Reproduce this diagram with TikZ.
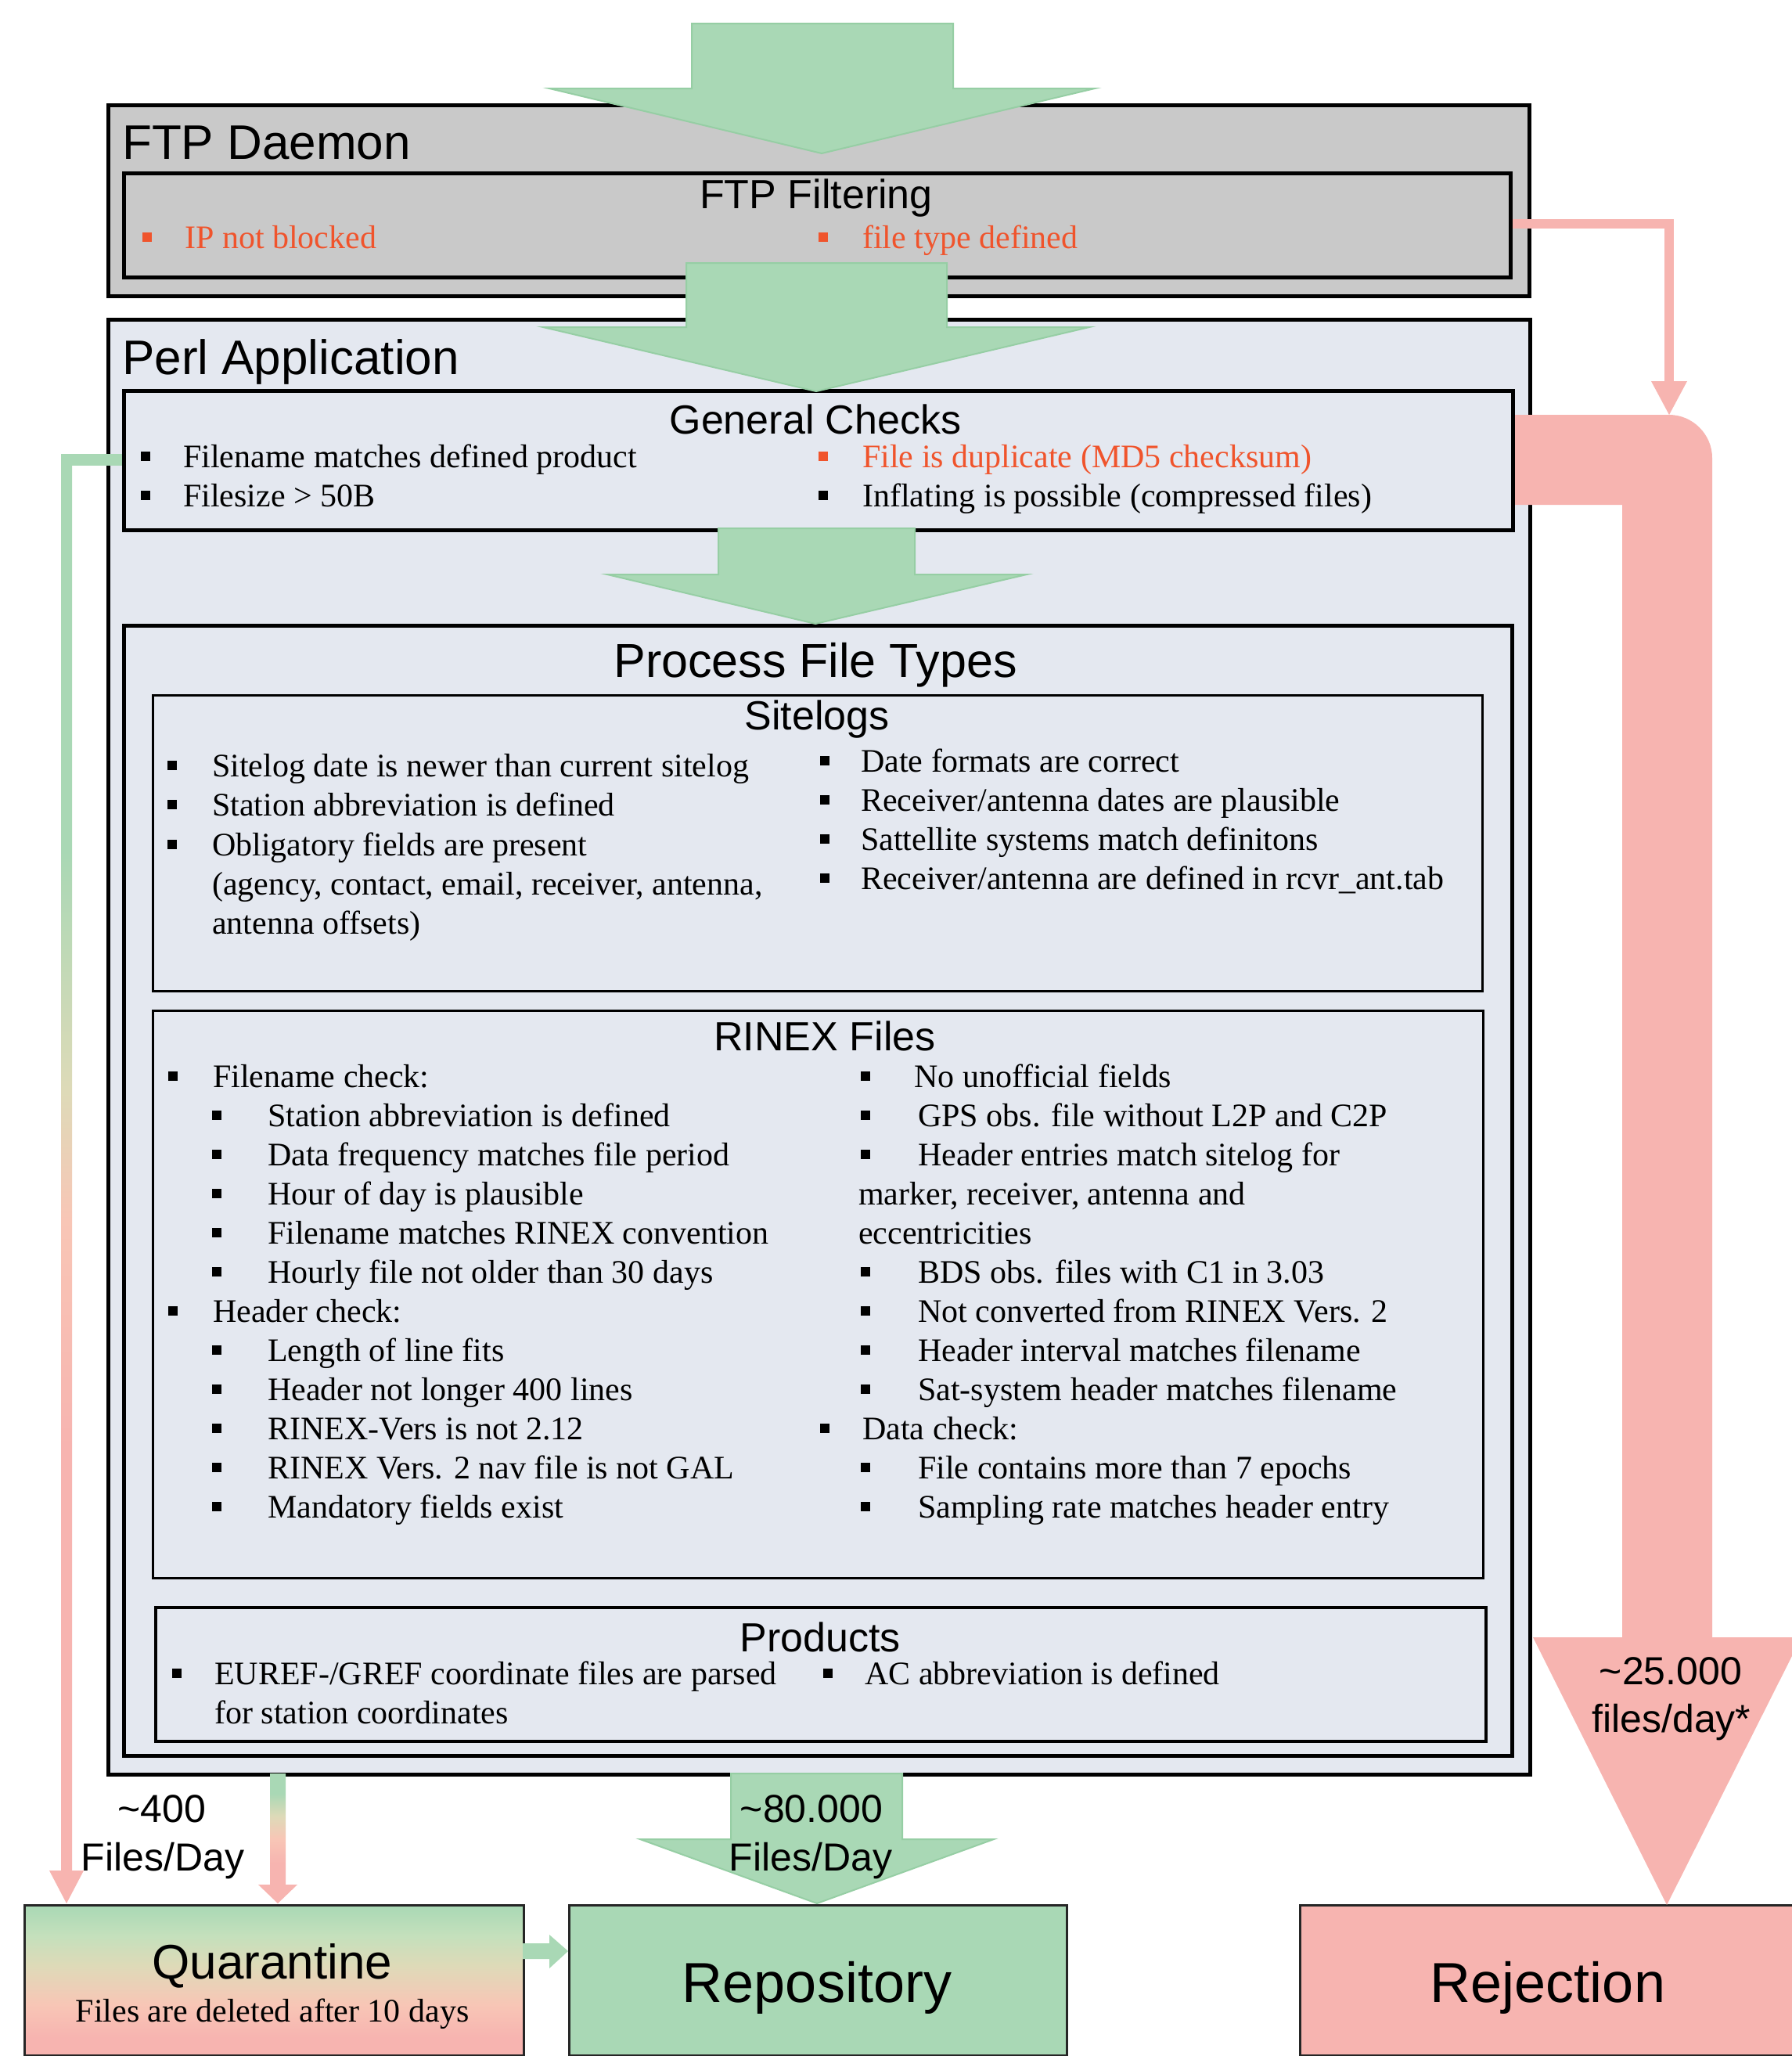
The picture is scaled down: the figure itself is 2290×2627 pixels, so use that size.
\documentclass[tikz,border=0pt]{standalone}
\usepackage{fontspec}
\setmainfont{Liberation Serif}
\setsansfont{Liberation Sans}
\usetikzlibrary{calc}
\definecolor{gfill}{RGB}{169,216,181}
\definecolor{gline}{RGB}{150,206,164}
\definecolor{pk}{RGB}{247,180,176}
\definecolor{beige}{RGB}{222,218,184}
\definecolor{salmon}{RGB}{248,198,182}
\definecolor{lgreen}{RGB}{196,224,188}
\definecolor{grayb}{RGB}{201,201,201}
\definecolor{lblue}{RGB}{228,232,240}
\definecolor{orng}{RGB}{240,84,44}
\pgfdeclareverticalshading{leftgrad}{100bp}{color(0bp)=(pk); color(40bp)=(pk); color(48bp)=(salmon); color(52.5bp)=(beige); color(61bp)=(gfill); color(100bp)=(gfill)}
\pgfdeclareverticalshading{midgrad}{100bp}{color(0bp)=(pk); color(35bp)=(pk); color(46bp)=(salmon); color(56bp)=(beige); color(66bp)=(gfill); color(100bp)=(gfill)}
\pgfdeclareverticalshading{quargrad}{100bp}{color(0bp)=(pk); color(31bp)=(pk); color(42bp)=(salmon); color(55bp)=(beige); color(65bp)=(lgreen); color(75bp)=(gfill); color(100bp)=(gfill)}
\tikzset{
  boxn/.style={draw=black, line width=5pt, inner sep=0pt, anchor=north west},
  boxthin/.style={draw=black, line width=2.5pt, inner sep=0pt, anchor=north west},
  boxlow/.style={draw=black!85, line width=3pt, inner sep=0pt, anchor=north west},
  body/.style={font=\fontsize{42}{50}\selectfont, inner sep=0pt, anchor=base west},
  hdA/.style={font=\sffamily\fontsize{62}{72}\selectfont, inner sep=0pt},
  hdB/.style={font=\sffamily\fontsize{52}{60}\selectfont, inner sep=0pt},
  hdC/.style={font=\sffamily\fontsize{72}{82}\selectfont, inner sep=0pt},
  garrowst/.style={fill=gfill, draw=gline, line width=2pt, line join=miter},
}
% [colour]{name}{bullet x}{text x}{baseline}{text}
\newcommand\itm[6][black]{%
  \fill[#1] (#3-6,#5-20) rectangle (#3+6,#5-8);
  \node[body,text=#1] (#2) at (#4,#5) {#6};}
\begin{document}
\begin{tikzpicture}[x=1pt,y=-1pt]
\useasboundingbox (0,0) rectangle (2290,2627);
\clip (0,0) rectangle (2290,2627);
\fill[white] (0,0) rectangle (2290,2627);

% ---------- boxes ----------
\node[boxn, fill=grayb, minimum width=1816pt, minimum height=244pt] (ftp) at (136,132) {};
\node[boxn, fill=grayb, minimum width=1772pt, minimum height=133pt] (filt) at (156,219) {};
\node[boxn, fill=lblue, minimum width=1817pt, minimum height=1859pt] (perl) at (136,406) {};
\node[boxn, fill=lblue, minimum width=1775pt, minimum height=178pt] (gen) at (156,497) {};
\node[boxn, fill=lblue, minimum width=1774pt, minimum height=1444pt] (pft) at (156,797) {};
\node[boxthin, fill=lblue, minimum width=1699pt, minimum height=378pt] (site) at (194,887) {};
\node[boxthin, fill=lblue, minimum width=1700pt, minimum height=725pt] (rinex) at (194,1290) {};
\node[boxthin, line width=3.5pt, fill=lblue, minimum width=1700pt, minimum height=171pt] (prod) at (197,2052) {};
\node[boxlow, shade, shading=quargrad, minimum width=638pt, minimum height=192pt] (quar) at (30,2433) {};
\node[boxlow, fill=gfill, minimum width=636pt, minimum height=192pt] (repo) at (726,2433) {};
\node[boxlow, fill=pk, minimum width=660pt, minimum height=192pt] (rej) at (1660,2433) {};

% ---------- pink connectors ----------
\coordinate (rc1) at (2133,286);
\coordinate (rc2) at (2133,490);
\draw[pk, line width=12pt] (filt.east |- rc1) -- (rc1) -- (rc2);
\fill[pk] (2110,487) -- (2156,487) -- (2133,530) -- cycle;
\fill[pk] (gen.east |- 0,530) -- (2133,530) .. controls (2163,530) and (2188,555) .. (2188,585)
  -- (2188,2092) -- (2302,2092) -- (2130,2434) -- (1959,2092) -- (2073,2092)
  -- (2073,645) -- (gen.east |- 0,645) -- cycle;

% left gradient connector (General Checks -> Quarantine)
\fill[gfill] (78,580) rectangle (gen.west |- 0,595);
\shade[shading=leftgrad] (78,580) rectangle (92,2392);
\fill[pk] (63,2390) -- (107,2390) -- (85,2432) -- cycle;
% Perl -> Quarantine
\shade[shading=midgrad] (345,2266) rectangle (365,2410);
\fill[pk] (330,2408) -- (380,2408) -- (355,2432) -- cycle;

% ---------- green block arrows ----------
\filldraw[garrowst] (884,30) -- (1218,30) -- (1218,113) -- (1399,113) -- (1050,196) -- (702,113) -- (884,113) -- cycle;
\filldraw[garrowst] (877,336) -- (1210,336) -- (1210,418) -- (1392,418) -- (1043,500) -- (694,418) -- (877,418) -- cycle;
\filldraw[garrowst] (918,675) -- (1169,675) -- (1169,734) -- (1312,734) -- (1042,797) -- (776,734) -- (918,734) -- cycle;
\filldraw[garrowst] (934,2266) -- (1153,2266) -- (1153,2350) -- (1270,2350) -- (1044,2432) -- (818,2350) -- (934,2350) -- cycle;
\fill[gfill] (668,2483) -- (702,2483) -- (702,2472) -- (726,2493) -- (702,2515) -- (702,2503) -- (668,2503) -- cycle;

% ---------- texts ----------
\node[hdA, anchor=base west] (tftp) at (156,203) {FTP Daemon};
\node[hdB, anchor=base] (tfilt) at (1043,266) {FTP Filtering};
\itm[orng]{f1}{188}{236}{317}{IP not blocked}
\itm[orng]{f2}{1052}{1102}{317}{file type defined}

\node[hdA, anchor=base west] (tperl) at (156,478) {Perl Application};
\node[hdB, anchor=base] (tgen) at (1042,554) {General Checks};
\itm{g1}{186}{234}{597}{Filename matches defined product}
\itm{g2}{186}{234}{647}{Filesize > 50B}
\itm[orng]{g3}{1052}{1102}{597}{File is duplicate (MD5 checksum)}
\itm{g4}{1052}{1102}{647}{Inflating is possible (compressed files)}

\node[hdA, font=\sffamily\fontsize{61}{70}\selectfont, anchor=base] (tpft) at (1042,865) {Process File Types};

\node[hdB, anchor=base] (tsite) at (1044,932) {Sitelogs};
\itm{s1}{220}{271}{992}{Sitelog date is newer than current sitelog}
\itm{s2}{220}{271}{1042}{Station abbreviation is defined}
\itm{s3}{220}{271}{1093}{Obligatory fields are present}
\node[body] (s3b) at (271,1143) {(agency, contact, email, receiver, antenna,};
\node[body] (s3c) at (271,1193) {antenna offsets)};
\itm{s4}{1054}{1100}{986}{Date formats are correct}
\itm{s5}{1054}{1100}{1036}{Receiver/antenna dates are plausible}
\itm{s6}{1054}{1100}{1086}{Sattellite systems match definitons}
\itm{s7}{1054}{1100}{1136}{Receiver/antenna are defined in rcvr\_ant.tab}

\node[hdB, anchor=base] (trin) at (1054,1342) {RINEX Files};
\itm{r1}{221}{272}{1389}{Filename check:}
\itm{r2}{277}{342}{1439}{Station abbreviation is defined}
\itm{r3}{277}{342}{1489}{Data frequency matches file period}
\itm{r4}{277}{342}{1539}{Hour of day is plausible}
\itm{r5}{277}{342}{1589}{Filename matches RINEX convention}
\itm{r6}{277}{342}{1639}{Hourly file not older than 30 days}
\itm{r7}{221}{272}{1689}{Header check:}
\itm{r8}{277}{342}{1739}{Length of line fits}
\itm{r9}{277}{342}{1789}{Header not longer 400 lines}
\itm{r10}{277}{342}{1839}{RINEX-Vers is not 2.12}
\itm{r11}{277}{342}{1889}{RINEX Vers. 2 nav file is not GAL}
\itm{r12}{277}{342}{1939}{Mandatory fields exist}
\itm{q1}{1106}{1168}{1389}{No unofficial fields}
\itm{q2}{1106}{1173}{1439}{GPS obs. file without L2P and C2P}
\itm{q3}{1106}{1173}{1489}{Header entries match sitelog for}
\node[body] (q3b) at (1097,1539) {marker, receiver, antenna and};
\node[body] (q3c) at (1097,1589) {eccentricities};
\itm{q4}{1106}{1173}{1639}{BDS obs. files with C1 in 3.03}
\itm{q5}{1106}{1173}{1689}{Not converted from RINEX Vers. 2}
\itm{q6}{1106}{1173}{1739}{Header interval matches filename}
\itm{q7}{1106}{1173}{1789}{Sat-system header matches filename}
\itm{q8}{1054}{1102}{1839}{Data check:}
\itm{q9}{1106}{1173}{1889}{File contains more than 7 epochs}
\itm{q10}{1106}{1173}{1939}{Sampling rate matches header entry}

\node[hdB, anchor=base] (tprod) at (1048,2110) {Products};
\itm{p1}{226}{274}{2152}{EUREF-/GREF coordinate files are parsed}
\node[body] (p1b) at (274,2202) {for station coordinates};
\itm{p2}{1058}{1105}{2152}{AC abbreviation is defined}

% flow labels
\node[hdB, font=\sffamily\fontsize{50}{58}\selectfont, anchor=base] (l400a) at (207,2328) {\textasciitilde 400};
\node[hdB, font=\sffamily\fontsize{50}{58}\selectfont, anchor=base] (l400b) at (208,2390) {Files/Day};
\node[hdB, font=\sffamily\fontsize{50}{58}\selectfont, anchor=base] (l80a) at (1037,2328) {\textasciitilde 80.000};
\node[hdB, font=\sffamily\fontsize{50}{58}\selectfont, anchor=base] (l80b) at (1036,2390) {Files/Day};
\node[hdB, font=\sffamily\fontsize{50}{58}\selectfont, anchor=base] (l25a) at (2135,2152) {\textasciitilde 25.000};
\node[hdB, font=\sffamily\fontsize{50}{58}\selectfont, anchor=base] (l25b) at (2136,2213) {files/day*};

% bottom boxes
\node[hdA, anchor=base] (tquar) at (348,2528) {Quarantine};
\node[body, anchor=base] (tquar2) at (348,2583) {Files are deleted after 10 days};
\node[hdC, anchor=base] (trepo) at (1044,2558) {Repository};
\node[hdC, anchor=base] (trej) at (1978,2558) {Rejection};
\end{tikzpicture}
\end{document}
